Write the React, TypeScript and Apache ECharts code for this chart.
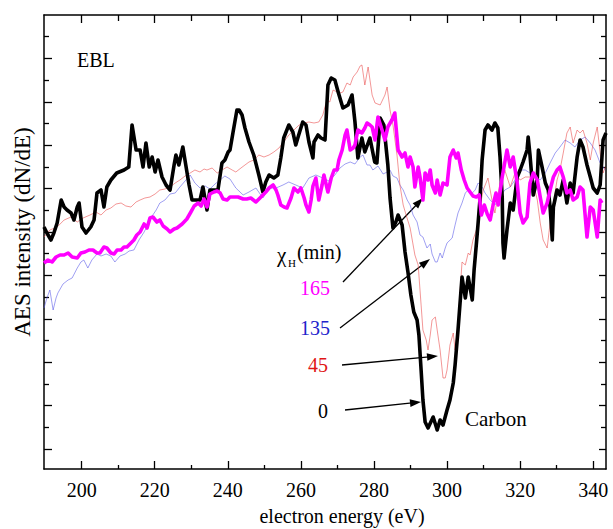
import React, { useEffect, useRef } from "react";
import * as echarts from "echarts";

// x: electron energy (eV); y: AES intensity (arbitrary units)
const xMajorTicks = [200, 220, 240, 260, 280, 300, 320, 340];
const xMinorTicks = [210, 230, 250, 270, 290, 310, 330];
const yMajorTicks = [20, 63.4, 106.8, 150.2, 193.6, 237, 280.4, 323.8, 367.2, 410.6];
const yMinorTicks = [41.7, 85.1, 128.5, 171.9, 215.3, 258.7, 302.1, 345.5, 388.9, 432.3];

const seriesNames = ["0", "45", "135", "165"];

const curve0: [number, number][] = [[189.7,242],[190.5,236],[191.6,229],[192.4,236],[193.3,246],[194.4,269],[195.2,262],[196.0,259],[197.1,256],[197.9,249],[198.8,262],[199.3,266],[200.1,242],[201.2,236],[202.5,242],[203.4,249],[204.2,276],[205.3,279],[206.1,262],[206.9,282],[208.0,289],[209.6,296],[211.6,299],[212.9,302],[213.8,344],[214.9,319],[216.0,319],[216.8,302],[217.6,326],[218.5,302],[219.3,312],[220.1,297],[220.9,309],[222.0,292],[223.1,284],[224.2,279],[225.3,304],[225.8,314],[226.6,304],[227.7,322],[228.5,304],[229.4,284],[230.2,269],[231.3,269],[232.4,269],[233.2,282],[234.3,259],[235.1,279],[236.0,279],[237.3,279],[238.4,306],[239.2,309],[240.1,317],[240.6,319],[241.4,336],[242.5,359],[243.1,359],[243.9,354],[244.7,341],[245.8,327],[247.1,314],[248.5,294],[249.6,277],[250.4,287],[251.3,294],[252.6,291],[253.7,294],[254.5,311],[255.3,331],[256.7,344],[257.8,337],[258.6,324],[259.4,334],[260.5,347],[261.4,344],[262.2,327],[263.3,311],[263.6,327],[264.7,334],[265.5,331],[266.6,329],[267.4,384],[268.3,391],[269.3,389],[270.2,377],[271.5,361],[272.9,364],[274.0,374],[274.8,347],[275.6,311],[276.7,331],[277.5,317],[278.9,331],[280.2,307],[280.8,306],[281.7,351],[282.7,344],[283.8,304],[284.4,271],[285.2,241],[286.0,247],[286.6,254],[287.7,244],[288.5,217],[289.3,197],[290.1,174],[290.9,157],[291.8,149],[292.3,134],[292.9,99],[293.4,69],[294.0,47],[294.8,41],[296.2,52],[297.3,39],[298.1,49],[298.9,44],[300.0,59],[300.8,69],[301.7,86],[302.2,104],[303.0,139],[304.1,192],[305.0,171],[305.8,192],[306.9,169],[307.4,199],[308.0,224],[308.5,246],[309.0,269],[309.6,309],[310.4,339],[311.2,344],[312.3,339],[313.1,346],[313.9,341],[314.5,312],[315.1,272],[315.3,226],[315.6,211],[316.4,239],[317.3,266],[318.1,259],[319.2,292],[320.0,299],[320.8,307],[321.9,319],[322.2,332],[322.7,314],[323.6,274],[324.7,291],[325.0,319],[326.0,302],[326.9,286],[327.7,279],[328.2,262],[328.8,229],[329.1,262],[330.1,279],[330.9,274],[331.8,289],[332.8,266],[333.7,286],[334.5,276],[335.6,312],[336.4,329],[337.2,322],[338.3,304],[339.2,292],[340.0,281],[341.1,276],[341.9,284],[342.7,329],[343.5,336]];

const curve45: [number, number][] = [[189.7,232],[191.3,239],[193.3,242],[195.2,249],[197.1,252],[198.8,247],[200.4,251],[202.3,254],[203.9,257],[205.3,254],[206.7,259],[208.0,261],[209.4,265],[210.8,266],[212.1,263],[213.5,262],[214.9,267],[216.0,269],[217.3,271],[218.7,272],[220.1,275],[221.4,279],[222.8,280],[224.2,282],[225.6,286],[226.9,289],[228.3,293],[229.7,296],[231.0,299],[232.4,297],[233.5,300],[234.3,299],[235.7,301],[237.1,296],[238.4,299],[239.8,302],[241.2,299],[242.2,297],[243.6,301],[244.7,304],[245.8,307],[247.1,309],[248.5,314],[249.9,312],[251.3,314],[252.6,317],[254.0,321],[255.3,327],[256.7,334],[258.1,339],[259.5,344],[260.8,346],[262.2,347],[263.6,346],[264.9,347],[266.0,354],[267.1,369],[267.9,367],[268.8,379],[269.9,377],[270.7,376],[271.5,377],[272.6,386],[273.5,384],[274.3,392],[275.4,397],[276.2,403],[276.7,404],[277.5,384],[278.4,402],[279.5,374],[280.3,366],[281.7,364],[283.0,374],[283.6,382],[284.4,359],[285.2,344],[286.3,314],[287.1,284],[288.0,264],[288.8,254],[289.9,241],[291.2,214],[292.1,204],[292.6,179],[293.4,139],[294.3,129],[294.8,119],[295.4,134],[295.9,149],[296.8,152],[297.3,139],[298.1,119],[298.9,91],[299.5,91],[300.0,99],[300.8,124],[301.7,136],[302.2,119],[303.0,144],[303.6,179],[304.1,207],[305.0,204],[305.8,216],[306.3,214],[307.1,229],[308.2,241],[309.0,262],[309.9,279],[311.2,291],[312.3,269],[313.1,256],[314.5,286],[315.8,299],[317.3,282],[318.6,296],[320.0,289],[321.4,292],[322.7,292],[323.6,286],[324.7,269],[325.5,246],[326.3,229],[327.4,221],[328.2,246],[329.1,266],[330.1,289],[330.9,299],[331.8,316],[332.8,336],[333.7,342],[334.5,326],[335.6,339],[336.4,336],[337.2,339],[338.3,326],[339.2,309],[340.0,326],[341.1,342],[341.9,316],[342.7,296],[343.3,302]];

const curve135: [number, number][] = [[189.7,161],[190.5,171],[191.3,179],[192.2,159],[193.0,171],[193.5,176],[194.9,185],[196.3,189],[197.4,191],[198.8,201],[199.8,207],[200.6,209],[201.7,201],[202.8,209],[204.2,215],[205.3,213],[206.7,215],[208.0,213],[209.1,207],[210.5,213],[211.9,215],[213.0,218],[214.3,219],[215.7,229],[217.1,237],[218.2,245],[219.3,253],[220.4,259],[221.4,266],[222.8,269],[224.2,275],[225.6,276],[226.9,282],[228.3,288],[229.7,294],[231.0,286],[232.4,281],[233.8,283],[235.1,280],[236.5,285],[237.9,289],[239.2,293],[240.6,290],[242.2,281],[244.2,274],[245.8,277],[247.7,281],[249.6,271],[251.3,281],[253.2,281],[255.1,284],[256.7,287],[258.6,284],[260.5,281],[262.2,291],[264.1,294],[266.0,291],[267.7,288],[269.3,294],[270.7,301],[272.1,305],[273.5,307],[274.8,305],[276.2,312],[277.0,314],[278.1,304],[278.9,304],[279.7,299],[281.1,303],[282.5,295],[283.6,297],[284.4,299],[285.2,293],[286.3,291],[287.1,284],[288.0,279],[289.1,269],[289.9,264],[290.7,254],[291.8,247],[292.6,234],[293.4,232],[294.5,221],[295.4,225],[295.9,215],[296.8,207],[297.3,207],[298.1,216],[298.7,211],[299.5,221],[300.0,226],[301.4,231],[302.2,244],[303.0,256],[304.1,266],[305.0,276],[305.8,279],[306.9,276],[307.7,279],[308.5,286],[309.6,282],[310.4,276],[311.8,269],[313.1,264],[314.5,272],[315.8,279],[317.3,282],[318.6,289],[320.0,299],[321.4,299],[322.7,296],[324.1,292],[325.5,289],[326.9,296],[328.2,306],[329.6,316],[330.9,322],[332.3,329],[333.7,326],[335.0,322],[336.4,329],[337.8,332],[339.2,326],[340.5,319],[341.9,306],[343.3,299]];

const curve165: [number, number][] = [[189.7,206],[190.8,209],[191.9,207],[193.0,212],[194.1,214],[195.2,214],[196.3,216],[197.4,212],[198.8,211],[199.8,216],[200.9,217],[202.0,219],[203.1,219],[204.2,216],[205.0,216],[206.1,222],[206.9,221],[208.0,216],[208.9,215],[209.7,219],[210.8,219],[211.6,222],[212.4,222],[213.5,226],[214.3,229],[215.1,234],[216.0,237],[217.1,245],[217.9,241],[218.7,251],[219.5,252],[220.6,247],[221.4,249],[222.3,243],[223.4,240],[224.2,237],[225.3,240],[226.1,241],[227.5,245],[228.8,250],[229.9,257],[230.8,263],[231.9,266],[232.7,263],[233.5,270],[234.3,262],[235.1,275],[236.2,277],[237.1,278],[237.9,276],[238.7,270],[239.8,269],[240.6,272],[241.7,272],[242.8,272],[244.2,270],[245.2,270],[246.3,271],[247.7,267],[248.8,271],[249.6,274],[250.4,277],[251.3,281],[252.4,284],[253.2,279],[253.7,274],[254.5,264],[255.4,262],[256.2,261],[257.3,271],[258.1,281],[259.2,277],[260.0,281],[260.9,271],[261.4,264],[262.2,257],[262.8,269],[263.3,283],[264.1,291],[264.9,269],[265.8,284],[266.3,294],[267.4,277],[268.3,291],[269.1,299],[269.9,299],[270.4,309],[271.3,319],[272.1,334],[272.6,339],[273.5,319],[274.3,321],[274.8,324],[275.6,339],[276.7,336],[277.5,341],[278.1,346],[278.9,344],[279.5,342],[280.3,329],[281.1,352],[282.2,339],[283.0,329],[283.8,342],[284.9,349],[285.7,356],[286.6,319],[287.7,312],[288.5,316],[289.3,302],[289.9,312],[290.7,302],[291.2,282],[292.1,302],[292.6,292],[293.4,269],[294.0,296],[294.8,289],[295.4,299],[295.9,284],[296.8,276],[297.3,289],[298.1,274],[298.9,286],[300.0,284],[300.8,312],[301.7,319],[302.5,311],[303.0,316],[303.9,299],[304.7,289],[305.5,281],[306.3,277],[307.1,273],[308.0,272],[308.8,274],[309.4,254],[310.2,264],[311.0,255],[311.8,249],[312.6,264],[313.4,276],[314.0,264],[315.1,292],[316.4,319],[317.3,302],[318.1,312],[319.2,286],[320.0,256],[320.8,246],[321.9,252],[322.7,286],[323.6,296],[324.7,289],[325.5,272],[326.3,256],[327.4,266],[328.2,279],[329.1,292],[330.1,299],[330.9,302],[331.8,292],[332.8,276],[333.7,279],[334.5,269],[335.6,272],[336.4,282],[337.2,279],[338.3,232],[339.2,262],[340.0,259],[341.1,232],[341.9,269],[342.4,266]];

const FONT = '"Liberation Serif", "Times New Roman", "DejaVu Serif", serif';
const X_MIN = 189.7;
const X_MAX = 343.5;
const Y_MIN = 0;
const Y_MAX = 454;

function arrow(x1: number, y1: number, x2: number, y2: number) {
  const a = Math.atan2(y2 - y1, x2 - x1);
  const L = 11;
  const W = 3.8;
  const c = Math.cos(a);
  const s = Math.sin(a);
  const bx = x2 - L * c;
  const by = y2 - L * s;
  const px = -s * W;
  const py = c * W;
  return [
    { type: "line", shape: { x1, y1, x2: bx + c * 2, y2: by + s * 2 }, style: { stroke: "#000", lineWidth: 1.3 }, silent: true },
    { type: "polygon", shape: { points: [[x2, y2], [bx + px, by + py], [bx - px, by - py]] }, style: { fill: "#000" }, silent: true },
  ];
}

function label(text: string, x: number, y: number, fill: string, size: number, align: string = "left") {
  return {
    type: "text",
    x,
    y,
    silent: true,
    style: { text, fill, fontSize: size, fontFamily: FONT, textAlign: align, textVerticalAlign: "middle" },
  };
}

function xAxisDef(position: string, ticks: number[], len: number, withLine: boolean, withLabels: boolean) {
  return {
    type: "value",
    position,
    min: X_MIN,
    max: X_MAX,
    axisLine: { show: withLine, onZero: false, lineStyle: { color: "#000", width: 1.5 } },
    axisTick: { show: true, inside: true, length: len, customValues: ticks, lineStyle: { color: "#000", width: 1.3 } },
    axisLabel: withLabels
      ? { show: true, customValues: ticks, color: "#000", fontSize: 20, fontFamily: FONT, margin: 11 }
      : { show: false },
    splitLine: { show: false },
  };
}

function yAxisDef(position: string, ticks: number[], len: number, withLine: boolean) {
  return {
    type: "value",
    position,
    min: Y_MIN,
    max: Y_MAX,
    axisLine: { show: withLine, onZero: false, lineStyle: { color: "#000", width: 1.5 } },
    axisTick: { show: true, inside: true, length: len, customValues: ticks, lineStyle: { color: "#000", width: 1.3 } },
    axisLabel: { show: false },
    splitLine: { show: false },
  };
}

export default function App() {
  const ref = useRef<HTMLDivElement>(null);
  useEffect(() => {
    if (!ref.current) return;
    const chart = echarts.init(ref.current, null, { renderer: "svg" });
    const lineSeries = (name: string, data: [number, number][], color: string, width: number, opacity: number, z: number) => ({
      name,
      type: "line",
      data,
      xAxisIndex: 0,
      yAxisIndex: 0,
      showSymbol: false,
      symbol: "none",
      z,
      lineStyle: { color, width, opacity, join: "round" },
      emphasis: { disabled: true },
    });
    chart.setOption({
      animation: false,
      backgroundColor: "#fff",
      grid: { left: 44, top: 15, right: 7, bottom: 60, containLabel: false },
      xAxis: [
        xAxisDef("bottom", xMajorTicks, 8, true, true),
        xAxisDef("bottom", xMinorTicks, 4, false, false),
        xAxisDef("top", xMajorTicks, 8, true, false),
        xAxisDef("top", xMinorTicks, 6, false, false),
      ],
      yAxis: [
        yAxisDef("left", yMajorTicks, 8, true),
        yAxisDef("left", yMinorTicks, 5, false),
        yAxisDef("right", yMajorTicks, 7, true),
        yAxisDef("right", yMinorTicks, 5, false),
      ],
      series: [
        lineSeries(seriesNames[2], curve135, "#5555e8", 0.8, 0.7, 2),
        lineSeries(seriesNames[1], curve45, "#ea4444", 0.8, 0.7, 3),
        lineSeries(seriesNames[0], curve0, "#000000", 3.6, 1, 4),
        lineSeries(seriesNames[3], curve165, "#ff00ff", 3.6, 1, 5),
      ],
      graphic: [
        {
          type: "text",
          x: 22,
          y: 232,
          rotation: Math.PI / 2,
          silent: true,
          style: { text: "AES intensity (dN/dE)", fill: "#000", fontSize: 23, fontFamily: FONT, textAlign: "center", textVerticalAlign: "middle" },
        },
        label("electron energy (eV)", 342, 516, "#000", 20, "center"),
        label("EBL", 77, 60, "#000", 20),
        label("χ", 277, 255, "#000", 21),
        label("H", 288, 263, "#000", 11),
        label("(min)", 297, 252, "#000", 20),
        label(seriesNames[3], 330, 288, "#ff00ff", 20, "right"),
        label(seriesNames[2], 330, 328, "#2222cc", 20, "right"),
        label(seriesNames[1], 328, 365, "#e01515", 20, "right"),
        label(seriesNames[0], 328, 411, "#000", 20, "right"),
        label("Carbon", 465, 419, "#000", 21),
        ...arrow(343, 282, 423, 198),
        ...arrow(340, 328, 430, 259),
        ...arrow(342, 365, 438, 356),
        ...arrow(345, 410, 421, 402),
      ],
    });
    return () => chart.dispose();
  }, []);
  return <div ref={ref} style={{ position: "absolute", left: 0, top: 0, width: 613, height: 529 }} />;
}
